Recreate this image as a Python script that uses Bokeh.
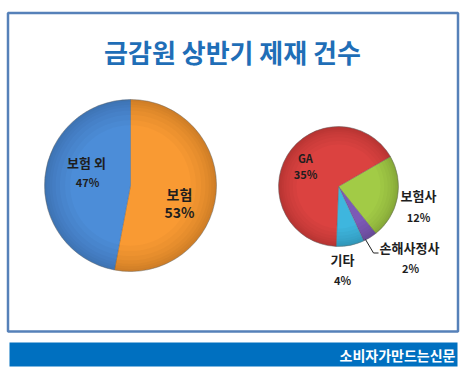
import math
from bokeh.plotting import figure
from bokeh.models import Range1d
from bokeh.core.properties import value
from bokeh.embed import file_html
from bokeh.resources import INLINE

# ---- data ----
title_text = "금감원 상반기 제재 건수"
main_labels = ["보험 외", "보험"]
main_values = [47, 53]
main_colors = ["#4c8dd8", "#f99a33"]

sub_labels = ["GA", "보험사", "손해사정사", "기타"]
sub_values = [35, 12, 2, 4]
sub_colors = ["#db4240", "#a2cb46", "#7c5ab6", "#3eb6de"]

banner_text = "소비자가만드는신문"

# ---- figure (coordinates = reference pixels, y flipped via TOP - y) ----
W, H = 466, 375
TOP = 375
p = figure(width=W, height=H, output_backend="svg", toolbar_location=None,
           x_range=Range1d(0, W), y_range=Range1d(0, H),
           min_border=0)
p.axis.visible = False
p.grid.visible = False
p.outline_line_color = None
p.background_fill_color = "white"
p.border_fill_color = "white"

def Y(y):
    return TOP - y

FONT = value("Noto Sans CJK KR")

# border box
p.quad(left=7.5, right=457.5, top=Y(12.5), bottom=Y(331), fill_color=None,
       line_color="#5681b9", line_width=2.5)

# title
p.text(x=[232], y=[Y(51)], text=[title_text], text_align="center",
       text_baseline="middle", text_font=FONT, text_font_style="bold",
       text_font_size="26px", text_color="#1f6eb7")

def draw_pie(cx, cy, r, values, colors, order, start_deg):
    total = sum(values)
    a = math.radians(start_deg)
    starts, ends, cols = [], [], []
    for i in order:
        d = 2 * math.pi * values[i] / total
        starts.append(a - d)
        ends.append(a)
        cols.append(colors[i])
        a -= d
    p.wedge(x=[cx] * len(order), y=[Y(cy)] * len(order), radius=r,
            start_angle=starts, end_angle=ends, fill_color=cols,
            line_color="#555555", line_alpha=0.35, line_width=0.8)
    # soft-edge shading (faint rings -> darkening toward rim)
    fracs = [0.70, 0.76, 0.82, 0.87, 0.91, 0.94, 0.97]
    for frac in fracs:
        p.annulus(x=[cx], y=[Y(cy)], inner_radius=r * frac, outer_radius=r,
                  fill_color="black", fill_alpha=0.022, line_color=None)
    p.circle(x=[cx], y=[Y(cy)], radius=r, fill_color=None,
             line_color="#777777", line_alpha=0.35, line_width=0.8)

# left pie: clockwise from top, 보험 first
draw_pie(130, 185, 86, main_values, main_colors, order=[1, 0], start_deg=90)

# right pie: clockwise from ~30 deg, 보험사, 손해사정사, 기타, GA
draw_pie(338, 186, 60, sub_values, sub_colors, order=[1, 2, 3, 0], start_deg=30)

TXT = "#1e1e1e"

def label(x, y, s, size):
    p.text(x=[x], y=[Y(y)], text=[s], text_align="center", text_baseline="middle",
           text_font=FONT, text_font_style="bold", text_font_size=size,
           text_color=TXT)

# left pie labels
label(86, 162, main_labels[0], "13px")
label(87, 181, f"{main_values[0]}%", "11px")
label(179, 193, main_labels[1], "14px")
label(179, 211, f"{main_values[1]}%", "14px")

# right pie labels
label(305, 157, sub_labels[0], "11px")
label(305, 173, f"{sub_values[0]}%", "11px")
label(418, 195, sub_labels[1], "13px")
label(418, 216, f"{sub_values[1]}%", "11px")
label(409, 247, sub_labels[2], "13px")
label(410, 267, f"{sub_values[2]}%", "11px")
label(342, 259, sub_labels[3], "13px")
label(342, 279, f"{sub_values[3]}%", "11px")

# leader line for 손해사정사
p.line(x=[365, 373, 378], y=[Y(239), Y(252.5), Y(252.5)], line_color="#222222",
       line_width=1)

# bottom banner
p.quad(left=9, right=457, top=Y(342), bottom=Y(366), fill_color="#0070c0",
       line_color=None)
p.text(x=[455], y=[Y(354)], text=[banner_text], text_align="right",
       text_baseline="middle", text_font=FONT, text_font_style="bold",
       text_font_size="14px", text_color="white")

open("out.html", "w").write(file_html(p, INLINE))
